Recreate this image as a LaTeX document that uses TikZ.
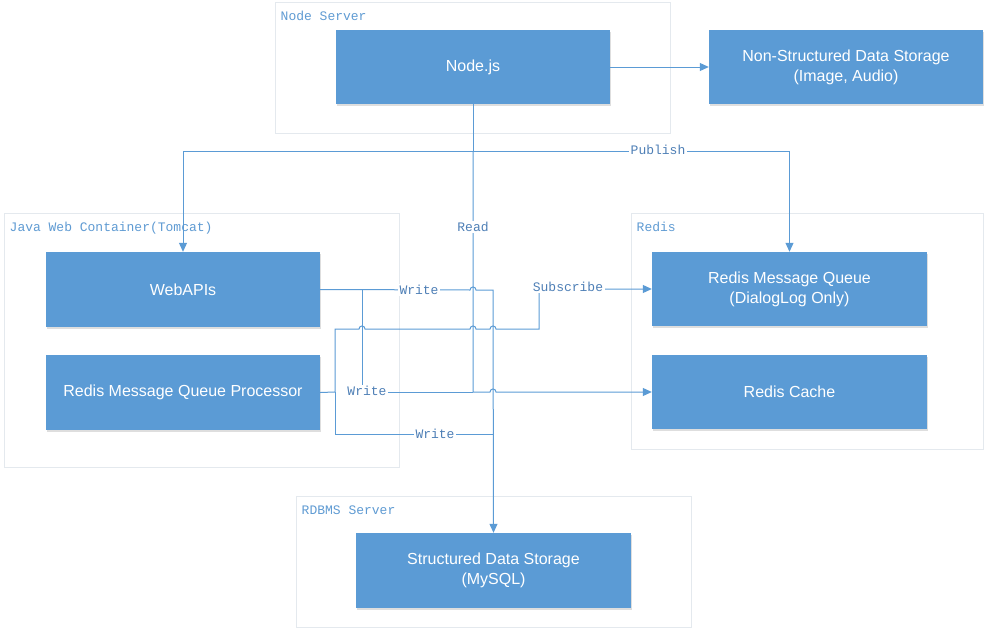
\documentclass[tikz,border=0pt]{standalone}
\usepackage{fontspec}
\setmainfont{Liberation Sans}
\newfontfamily\lblfont{Liberation Mono}
\usetikzlibrary{arrows.meta,shadows}
\definecolor{boxblue}{HTML}{5B9BD5}
\definecolor{linecol}{HTML}{5B9BD5}
\definecolor{contline}{HTML}{E4E9EE}
\definecolor{contlbl}{HTML}{5F9BD3}
\definecolor{edgelbl}{HTML}{4E7FB6}
\tikzset{
  box/.style={rectangle, fill=boxblue, draw=none, inner sep=0pt,
    minimum width=274pt, minimum height=74pt, text=white, align=center,
    font=\fontsize{16}{20}\selectfont,
    drop shadow={shadow xshift=0.8pt, shadow yshift=-1.5pt, fill=black!25, opacity=0.5}},
  container/.style={rectangle, draw=contline, line width=1pt, fill=white, inner sep=0pt},
  contlabel/.style={anchor=base west, inner sep=0pt, text=contlbl, font=\lblfont\fontsize{13}{15}\selectfont},
  elabel/.style={fill=white, inner sep=1.5pt, text=edgelbl, font=\lblfont\fontsize{13}{15}\selectfont},
  conn/.style={draw=linecol, line width=1pt},
  arr/.style={conn, -{Triangle[length=9pt,width=8pt]}},
}
\begin{document}
\begin{tikzpicture}[x=1pt,y=-1pt]
\useasboundingbox (0,0) rectangle (986,629);
% containers
\node[container, minimum width=395pt, minimum height=131pt] (nodesrv) at (472.5,67.5) {};
\node[container, minimum width=395pt, minimum height=254pt] (java) at (201.5,340) {};
\node[container, minimum width=352pt, minimum height=236pt] (redis) at (807,331) {};
\node[container, minimum width=395pt, minimum height=131pt] (rdbms) at (493.5,561.5) {};
\node[contlabel] (nodesrvlbl) at ([xshift=6pt,yshift=-19pt]nodesrv.north west) {Node Server};
\node[contlabel] (javalbl) at ([xshift=6pt,yshift=-19pt]java.north west) {Java Web Container(Tomcat)};
\node[contlabel] (redislbl) at ([xshift=6pt,yshift=-19pt]redis.north west) {Redis};
\node[contlabel] (rdbmslbl) at ([xshift=6pt,yshift=-19pt]rdbms.north west) {RDBMS Server};
% boxes
\node[box] (nodejs) at (473,67) {Node.js};
\node[box] (nsd) at (846,67) {Non-Structured Data Storage\\(Image, Audio)};
\node[box, minimum height=75pt] (webapi) at (183,289.5) {WebAPIs};
\node[box, minimum height=75pt] (rmqp) at (183,392.5) {Redis Message Queue Processor};
\node[box, minimum width=275pt] (rmq) at (789.5,289) {Redis Message Queue\\(DialogLog Only)};
\node[box, minimum width=275pt] (cache) at (789.5,392) {Redis Cache};
\node[box, minimum width=275pt, minimum height=75pt] (sds) at (493.5,570.5) {Structured Data Storage\\(MySQL)};
% helper coordinates
\coordinate (pubj) at (473,151);
\coordinate (readc) at (473,392);
\coordinate (wbr) at (362,290);
\coordinate (wsds) at (493,290);
\coordinate (pj) at (335,392);
\coordinate (subc) at (539,329);
\coordinate (wlow) at (493,434);
% connectors
\draw[arr] (nodejs.east) -- (nsd.west);
\draw[arr] (nodejs.south) -- (pubj) -| (webapi.north);
\draw[arr] (pubj) -| (rmq.north);
\node[elabel] (publbl) at (658,150) {Publish};
% Read
\draw[arr] (pubj) -- (readc) -- (490,392) .. controls (490,388) and (496,388) .. (496,392) -- (cache.west);
\node[elabel] (readlbl) at (473,227) {Read};
% WebAPIs -> MySQL
\draw[arr] (webapi.east) -- (470,290) .. controls (470,286) and (476,286) .. (476,290) -- (wsds) -- (sds.north);
\node[elabel] (w1) at (419,290) {Write};
% WebAPIs -> Redis Cache
\draw[conn] (wbr) -- (362,392) -- (readc);
\node[elabel] (w2) at (367,391) {Write};
% Subscribe
\draw[arr] (rmqp.east) -- (pj) -- (335,329)
  -- (359,329) .. controls (359,325) and (365,325) .. (365,329)
  -- (470,329) .. controls (470,325) and (476,325) .. (476,329)
  -- (490,329) .. controls (490,325) and (496,325) .. (496,329)
  -- (subc) |- (rmq.west);
\node[elabel] (sublbl) at (568,287) {Subscribe};
% RMQP -> MySQL
\draw[conn] (pj) -- (335,434) -- (wlow);
\node[elabel] (w3) at (435,434) {Write};
\end{tikzpicture}
\end{document}
